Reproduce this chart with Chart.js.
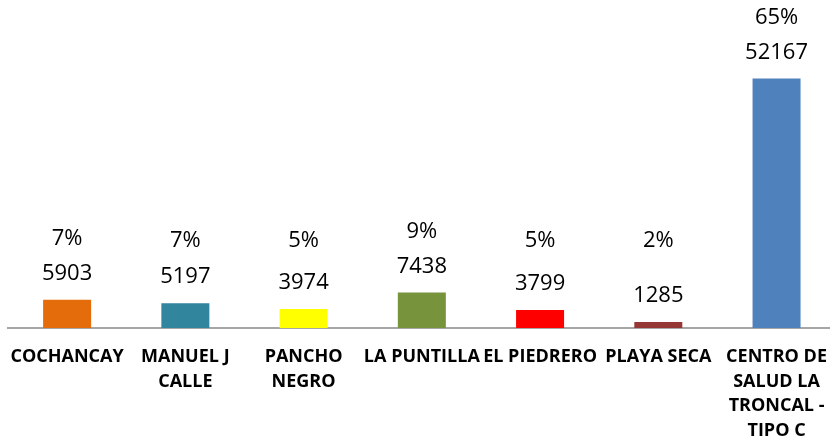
<!DOCTYPE html>
<html>
<head>
<meta charset="utf-8">
<script src="https://cdn.jsdelivr.net/npm/chart.js@4/dist/chart.umd.min.js"></script>
<style>
  html, body { margin: 0; padding: 0; background: #fff; overflow: hidden; }
  #wrap { width: 836px; height: 443px; }
</style>
</head>
<body>
<div id="wrap"><canvas id="unitChart"></canvas></div>
<script>
// Data
const units = [
    'COCHANCAY',
    ['MANUEL J', 'CALLE'],
    ['PANCHO', 'NEGRO'],
    'LA PUNTILLA',
    'EL PIEDRERO',
    'PLAYA SECA',
    ['CENTRO DE', 'SALUD LA', 'TRONCAL -', 'TIPO C']
];
const attentions = [5903, 5197, 3974, 7438, 3799, 1285, 52167];
const shares = ['7%', '7%', '5%', '9%', '5%', '2%', '65%'];
const barColors = ['#E46C0A', '#31859C', '#FFFF00', '#77933C', '#FF0000', '#953735', '#4F81BD'];

// Draws the value and the share above each bar
const barLabels = {
    id: 'barLabels',
    afterDatasetsDraw(chart) {
        const ctx = chart.ctx;
        const meta = chart.getDatasetMeta(0);
        const rowY = chart.chartArea.bottom - 87;
        ctx.save();
        ctx.fillStyle = '#000';
        ctx.textAlign = 'center';
        ctx.textBaseline = 'middle';
        ctx.font = '22px "Open Sans", sans-serif';
        meta.data.forEach((bar, i) => {
            const valueY = bar.y - 26;
            ctx.fillText(String(attentions[i]), bar.x, valueY);
            const pctY = Math.min(valueY - 35, rowY);
            ctx.fillText(shares[i], bar.x, pctY);
        });
        ctx.restore();
    }
};

const config = {
    type: 'bar',
    data: {
        labels: units,
        datasets: [{
            data: attentions,
            backgroundColor: barColors,
            borderWidth: 0,
            barPercentage: 0.406,
            categoryPercentage: 1
        }]
    },
    options: {
        responsive: true,
        maintainAspectRatio: false,
        animation: false,
        layout: {
            padding: { left: 8, right: 0, top: 41, bottom: -9 }
        },
        scales: {
            x: {
                grid: { display: false },
                border: { display: true, color: '#a6a6a6', width: 2 },
                ticks: {
                    color: '#000',
                    autoSkip: false,
                    maxRotation: 0,
                    padding: 9,
                    font: { family: '"Open Sans", sans-serif', size: 18, weight: 'bold', lineHeight: 1.36 }
                }
            },
            y: {
                display: false,
                min: 0,
                max: 60000
            }
        },
        plugins: {
            legend: { display: false },
            tooltip: { enabled: false }
        }
    },
    plugins: [barLabels]
};

const unitChart = new Chart(document.getElementById('unitChart').getContext('2d'), config);
</script>
</body>
</html>
